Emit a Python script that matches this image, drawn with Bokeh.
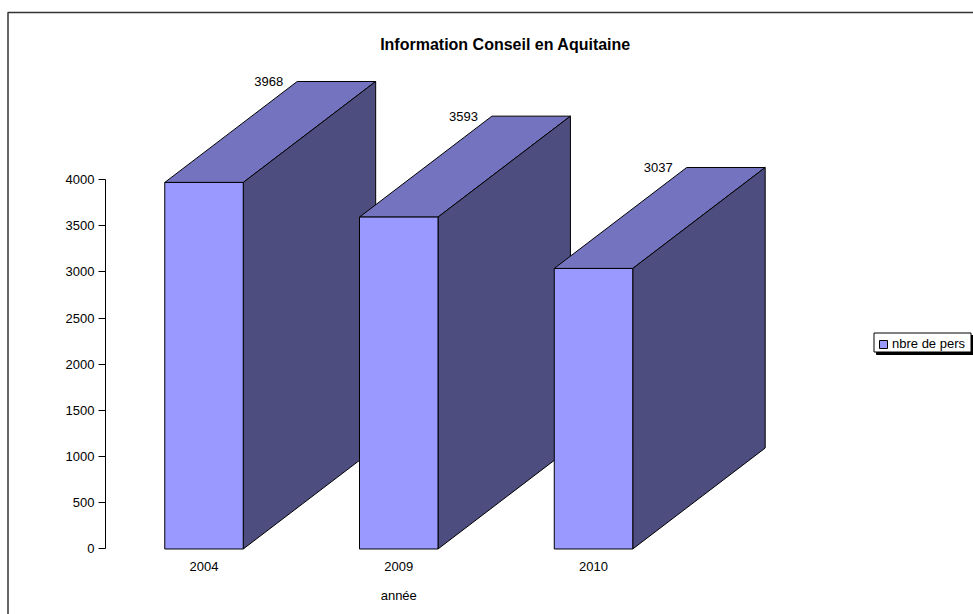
from bokeh.embed import file_html
from bokeh.resources import INLINE
from bokeh.plotting import figure
from bokeh.models import (Range1d, FixedTicker, BoxAnnotation, Legend, LegendItem, Label, LinearAxis)
from bokeh.core.properties import value

years = ["2004", "2009", "2010"]
counts = [3968, 3593, 3037]
series_name = "nbre de pers"
chart_title = "Information Conseil en Aquitaine"
axis_title = "année"
y_ticks = [0, 500, 1000, 1500, 2000, 2500, 3000, 3500, 4000]

FONT = "Liberation Sans"
FRONT, TOP, SIDE = "#9999FF", "#7373BF", "#4D4D80"
BAR_W = 0.403
DX = 0.68
DY = 1093


def canvas_box(left, right, top, bottom, **kw):
    return BoxAnnotation(left=left, right=right, top=top, bottom=bottom,
                         left_units="canvas", right_units="canvas",
                         top_units="canvas", bottom_units="canvas", line_alpha=1, **kw)


p = figure(width=973, height=614, output_backend="svg", toolbar_location=None,
           title=None, tools="", min_border_left=0, min_border_right=0,
           min_border_top=0, min_border_bottom=0,
           frame_width=973, frame_height=614,
           x_axis_location=None, y_axis_location=None,
           x_range=Range1d(-1.04493, 3.9512), y_range=Range1d(-709.07, 5937.7))
p.grid.visible = False
p.outline_line_color = None

# outer frame: only the left and top edges fall inside the page
p.add_layout(canvas_box(7.5, 985, 12, 630, fill_alpha=0, line_color="#333333", line_width=1.5))

p.add_layout(Label(x=1.548, y=5461, text=chart_title, text_align="center", text_baseline="middle",
                   text_font=FONT, text_font_size="16px", text_font_style="bold", text_color="black"))

front_r = None
for i, v in enumerate(counts):
    l, r = i - BAR_W / 2, i + BAR_W / 2
    p.patch([l, r, r + DX, l + DX], [v, v, v + DY, v + DY],
            fill_color=TOP, line_color="black", line_width=1)
    p.patch([r, r + DX, r + DX, r], [v, v + DY, DY, 0],
            fill_color=SIDE, line_color="black", line_width=1)
    fr = p.quad(left=[l], right=[r], bottom=[0], top=[v],
                fill_color=FRONT, line_color="black", line_width=1)
    front_r = front_r or fr

p.text(x=[i - BAR_W / 2 + DX for i in range(len(counts))],
       y=[v + DY for v in counts], text=[str(v) for v in counts],
       x_offset=-14, text_align="right", text_baseline="middle",
       text_font=value(FONT), text_font_size="13px", text_color="black")

ya = LinearAxis(fixed_location=-0.5058)
ya.ticker = FixedTicker(ticks=y_ticks)
ya.bounds = (0, 4000)
ya.minor_tick_line_color = None
ya.major_tick_in = 0
ya.major_tick_out = 7
ya.major_label_standoff = 4
ya.major_label_text_font = FONT
ya.major_label_text_font_size = "13px"
ya.major_label_text_color = "black"
ya.axis_line_color = "black"
ya.major_tick_line_color = "black"
p.add_layout(ya, "left")

xa = LinearAxis(fixed_location=0)
xa.ticker = FixedTicker(ticks=list(range(len(years))))
xa.major_label_overrides = {i: y for i, y in enumerate(years)}
xa.axis_line_color = None
xa.major_tick_line_color = None
xa.minor_tick_line_color = None
xa.major_tick_in = 0
xa.major_tick_out = 0
xa.major_label_standoff = 13
xa.major_label_text_font = FONT
xa.major_label_text_font_size = "13px"
xa.major_label_text_color = "black"
p.add_layout(xa, "below")

p.add_layout(Label(x=1, y=-503, text=axis_title,
                   text_align="center", text_baseline="middle",
                   text_font=FONT, text_font_size="13px", text_color="black"))

# legend with hard shadow
p.add_layout(canvas_box(876, 973, 335, 354, fill_color="black", fill_alpha=1, line_color="black"))
p.add_layout(canvas_box(873.5, 970.5, 332.5, 351.5, fill_color="white", fill_alpha=1,
                        line_color="black", line_width=1))
legend = Legend(items=[LegendItem(label=series_name, renderers=[front_r])],
                location=(878, 263), margin=0, padding=2, spacing=0,
                glyph_width=10, glyph_height=10, label_standoff=4,
                label_height=10,
                label_text_font=FONT, label_text_font_size="13px", label_text_color="black",
                border_line_color=None, background_fill_alpha=0)
p.add_layout(legend, "center")

open("out.html", "w").write(file_html(p, INLINE))
